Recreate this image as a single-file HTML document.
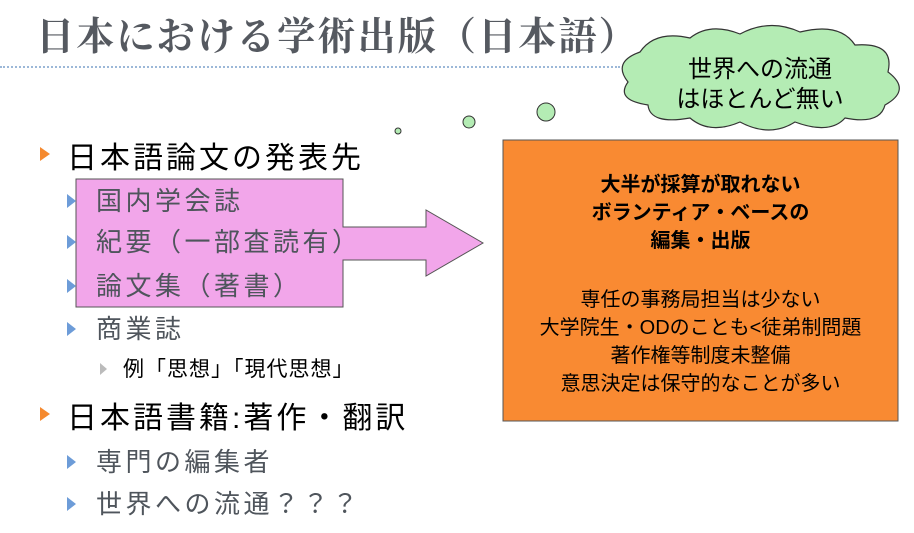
<!DOCTYPE html>
<html><head><meta charset="utf-8"><style>
body{margin:0;width:914px;height:533px;background:#fff;position:relative;overflow:hidden;font-family:"Liberation Sans","Noto Sans CJK JP",sans-serif}
.a{position:absolute;white-space:nowrap}
.t{font-family:"Liberation Serif","Noto Serif CJK SC",serif;color:#555960;font-size:39px;font-weight:bold;left:36px;top:6px;letter-spacing:2px;transform:scaleX(0.98);transform-origin:left}
.b1{font-size:30px;color:#000;letter-spacing:3px}
.b2{font-size:26px;color:#4f555c;letter-spacing:3.5px}
.b3{font-size:21px;color:#000;letter-spacing:1px}
.tri{position:absolute;width:0;height:0;border-top:7px solid transparent;border-bottom:7px solid transparent}
.o{border-left:10px solid #f58a30}
.bl{border-left:9px solid #6d9cd8}
.g{border-left:7px solid #bbb;border-top-width:6px;border-bottom-width:6px}
</style></head><body>
<div class="a t">日本における学術出版（日本語）</div>
<div class="a" style="left:0;top:66px;width:620px;border-top:2px dotted #9cb8d8"></div>
<svg class="a" style="left:0;top:0" width="914" height="533">
<path d="M76 179 H343 V227 H426 V210 L483 243 L426 276 V260 H343 V307 H76 Z" fill="#f2a6ea" stroke="#555" stroke-width="1"/>
<rect x="503" y="140" width="395" height="281" fill="#f98a32" stroke="#555" stroke-width="1"/>
<path d="M640 52 Q655 30 690 38 Q710 22 740 34 Q770 18 800 32 Q840 22 855 45 Q895 42 888 72 Q912 90 885 105 Q880 125 845 118 Q830 135 795 122 Q770 138 740 122 Q710 135 690 118 Q650 125 648 105 Q615 100 628 82 Q612 62 640 52 Z" fill="#b4ecb4" stroke="#333" stroke-width="1.2"/>
<circle cx="398" cy="131" r="3" fill="#b4ecb4" stroke="#333"/>
<circle cx="469" cy="122" r="6" fill="#b4ecb4" stroke="#333"/>
<circle cx="546" cy="112" r="9" fill="#b4ecb4" stroke="#333"/>
</svg>
<div class="a" style="left:640px;top:55px;width:240px;text-align:center;font-size:24px;line-height:30px">世界への流通<br>はほとんど無い</div>
<div class="tri o" style="left:40px;top:147px"></div>
<div class="a b1" style="left:67px;top:133px">日本語論文の発表先</div>
<div class="tri bl" style="left:67px;top:194px"></div>
<div class="a b2" style="left:96px;top:181px">国内学会誌</div>
<div class="tri bl" style="left:67px;top:235px"></div>
<div class="a b2" style="left:96px;top:222px">紀要（一部査読有）</div>
<div class="tri bl" style="left:67px;top:279px"></div>
<div class="a b2" style="left:96px;top:266px">論文集（著書）</div>
<div class="tri bl" style="left:67px;top:322px"></div>
<div class="a b2" style="left:96px;top:309px">商業誌</div>
<div class="tri g" style="left:100px;top:363px"></div>
<div class="a b3" style="left:123px;top:353px">例「思想」「現代思想」</div>
<div class="tri o" style="left:40px;top:407px"></div>
<div class="a b1" style="left:67px;top:393px">日本語書籍:著作・翻訳</div>
<div class="tri bl" style="left:67px;top:455px"></div>
<div class="a b2" style="left:96px;top:442px">専門の編集者</div>
<div class="tri bl" style="left:67px;top:497px"></div>
<div class="a b2" style="left:96px;top:484px">世界への流通？？？</div>
<div class="a" style="left:503px;top:171px;width:395px;text-align:center;font-size:20px;font-weight:bold;line-height:28px">大半が採算が取れない<br>ボランティア・ベースの<br>編集・出版</div>
<div class="a" style="left:503px;top:286px;width:395px;text-align:center;font-size:20px;line-height:28px">専任の事務局担当は少ない<br>大学院生・ODのことも&lt;徒弟制問題<br>著作権等制度未整備<br>意思決定は保守的なことが多い</div>
</body></html>
